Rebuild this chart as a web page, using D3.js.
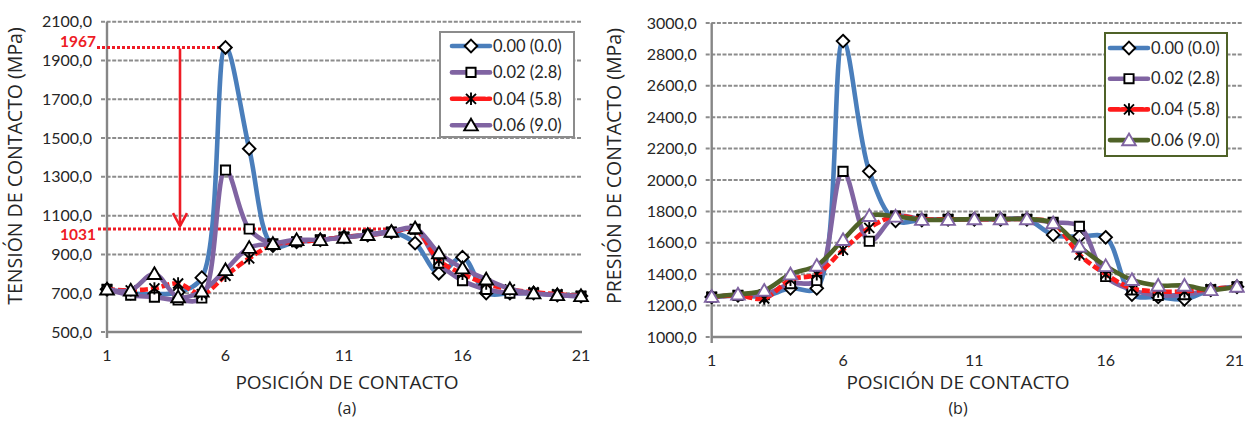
<!DOCTYPE html>
<html>
<head>
<meta charset="utf-8">
<script src="https://cdn.jsdelivr.net/npm/d3@7"></script>
<style>
  html, body { margin: 0; padding: 0; background: #fff; }
  svg { display: block; }
</style>
</head>
<body>
<svg id="chart" width="1245" height="421"></svg>
<script>
// Contact positions along the profile
const positions = [1,2,3,4,5,6,7,8,9,10,11,12,13,14,15,16,17,18,19,20,21];
const xTickLabels = [1, 6, 11, 16, 21];

// Series names (misalignment and angle)
const seriesNames = ["0.00 (0.0)", "0.02 (2.8)", "0.04 (5.8)", "0.06 (9.0)"];

// (a) Contact stress, MPa
const tension00 = [720,700,695,705,780,1967,1445,945,965,975,990,1000,1015,958,803,886,701,700,700,690,685];
const tension02 = [720,690,680,665,675,1335,1031,955,965,975,990,1000,1015,1030,855,765,720,700,700,690,685];
const tension04 = [720,715,725,750,695,790,880,950,965,975,990,1000,1015,1030,870,800,750,720,705,695,685];
const tension06 = [720,715,800,680,710,820,935,955,975,975,987,1001,1018,1036,907,829,772,722,700,691,686];
const tensionTicks = [500,700,900,1100,1300,1500,1700,1900,2100];
const tensionMarks = [1967, 1031];

// (b) Contact pressure, MPa
const pressure00 = [1255,1265,1260,1310,1310,2885,2055,1740,1745,1750,1750,1750,1750,1650,1640,1635,1270,1255,1240,1300,1320];
const pressure02 = [1255,1265,1270,1340,1360,2055,1610,1770,1750,1750,1750,1750,1750,1730,1705,1385,1300,1265,1270,1300,1320];
const pressure04 = [1255,1265,1245,1365,1400,1555,1695,1770,1750,1750,1750,1750,1750,1725,1525,1400,1310,1290,1290,1305,1320];
const pressure06 = [1257,1272,1296,1400,1455,1619,1772,1768,1747,1747,1751,1751,1751,1726,1577,1453,1364,1328,1328,1300,1321];
const pressureTicks = [1000,1200,1400,1600,1800,2000,2200,2400,2600,2800,3000];

const WIDTH = 1245;
const BLUE = "#4A7EBB", PURPLE = "#8064A2", RED = "#FF1A1A", OLIVE = "#4F6228";
const GRID = "#8C8C8C", AXIS = "#868686", TEXT = "#262626";
const tickFont = "Lato, 'Liberation Sans', sans-serif";
const titleFont = "'Open Sans', 'Noto Sans', sans-serif";
const TICK_SIZE = 16;

const svg = d3.select("#chart");

function markerPath(type) {
  switch (type) {
    case "diamond":  return "M0,-6.3L6.3,0L0,6.3L-6.3,0Z";
    case "square":   return "M-4.6,-4.6H4.6V4.6H-4.6Z";
    case "triangle": return "M0,-6.5L6.8,5.2L-6.8,5.2Z";
    case "star":     return "M-5,-5L5,5M-5,5L5,-5M0,-6.2V6.2";
  }
}

const fmt = v => v.toFixed(1).replace(".", ",");

function drawPanel(cfg) {
  const g = svg.append("g");
  const x = d3.scaleLinear().domain([1, 21]).range(cfg.xRange);
  const y = d3.scaleLinear().domain(cfg.yDomain).range(cfg.yRange);

  // dashed horizontal gridlines (with outward tick stubs)
  g.selectAll("line.grid").data(cfg.ticks).join("line")
    .attr("x1", cfg.xRange[0] - 6).attr("x2", cfg.gridEnd)
    .attr("y1", d => y(d)).attr("y2", d => y(d))
    .attr("stroke", GRID).attr("stroke-width", 2)
    .attr("stroke-dasharray", "4,1.6");

  // y tick labels
  g.selectAll("text.ytick").data(cfg.ticks).join("text")
    .attr("x", cfg.xRange[0] - 15).attr("y", d => y(d))
    .attr("dy", "0.35em").attr("text-anchor", "end")
    .attr("font-family", tickFont).attr("font-size", TICK_SIZE)
    .attr("fill", TEXT).text(fmt);

  // axes lines
  g.append("line")
    .attr("x1", cfg.xRange[0]).attr("x2", cfg.xRange[0])
    .attr("y1", cfg.yRange[1]).attr("y2", cfg.yRange[0] + 6)
    .attr("stroke", AXIS).attr("stroke-width", 2.4);
  g.append("line")
    .attr("x1", cfg.xRange[0]).attr("x2", cfg.gridEnd)
    .attr("y1", cfg.yRange[0]).attr("y2", cfg.yRange[0])
    .attr("stroke", AXIS).attr("stroke-width", 2.4);

  // x tick labels (kept inside the page at the right edge)
  g.selectAll("text.xtick").data(xTickLabels).join("text")
    .attr("y", cfg.yRange[0] + 29)
    .attr("text-anchor", "middle")
    .attr("font-family", tickFont).attr("font-size", TICK_SIZE)
    .attr("fill", TEXT).text(d => d)
    .attr("x", function (d) {
      const half = this.getComputedTextLength() / 2;
      return Math.min(x(d), WIDTH - 1 - half);
    });

  // axis titles
  g.append("text")
    .attr("x", cfg.titleX).attr("y", 389)
    .attr("text-anchor", "middle")
    .attr("font-family", titleFont).attr("font-size", 19)
    .attr("fill", TEXT).text("POSICIÓN DE CONTACTO");
  g.append("text")
    .attr("x", cfg.titleX).attr("y", 414)
    .attr("text-anchor", "middle")
    .attr("font-family", titleFont).attr("font-size", 16)
    .attr("fill", TEXT).text(cfg.panel);
  g.append("text")
    .attr("transform", `translate(${cfg.yTitleX},${cfg.yTitleY}) rotate(-90)`)
    .attr("text-anchor", "middle")
    .attr("font-family", titleFont).attr("font-size", 19.5)
    .attr("fill", TEXT).text(cfg.yTitle);

  // optional annotation layer beneath the series
  if (cfg.annotate) cfg.annotate(g, x, y);

  const line = d3.line()
    .x((d, i) => x(positions[i]))
    .y(d => y(d))
    .curve(d3.curveCatmullRom.alpha(0.5));

  cfg.series.forEach(s => {
    g.append("path")
      .attr("d", line(s.values))
      .attr("fill", "none")
      .attr("stroke", s.color).attr("stroke-width", 4.6)
      .attr("stroke-linejoin", "round")
      .attr("stroke-dasharray", s.dash || null);
    g.selectAll(null).data(s.values).join("path")
      .attr("transform", (d, i) => `translate(${x(positions[i])},${y(d)})`)
      .attr("d", markerPath(s.marker))
      .attr("fill", s.marker === "star" ? "none" : "#fff")
      .attr("stroke", s.markerStroke || "#000")
      .attr("stroke-width", 1.9);
  });

  // legend
  const L = cfg.legend;
  g.append("rect")
    .attr("x", L.x).attr("y", L.y).attr("width", L.w).attr("height", L.h)
    .attr("fill", "#fff").attr("stroke", L.border).attr("stroke-width", 2);
  cfg.series.forEach((s, i) => {
    const ry = L.y + L.first + i * L.step;
    g.append("line")
      .attr("x1", L.x + L.pad).attr("x2", L.x + L.pad + 38)
      .attr("y1", ry).attr("y2", ry)
      .attr("stroke", s.color).attr("stroke-width", 4.6)
      .attr("stroke-linecap", "round")
      .attr("stroke-dasharray", s.dash ? "9,3" : null);
    g.append("path")
      .attr("transform", `translate(${L.x + L.pad + 19},${ry})`)
      .attr("d", markerPath(s.marker))
      .attr("fill", s.marker === "star" ? "none" : "#fff")
      .attr("stroke", s.markerStroke || "#000")
      .attr("stroke-width", 1.9);
    g.append("text")
      .attr("x", L.x + L.pad + 41).attr("y", ry).attr("dy", "0.35em")
      .attr("font-family", tickFont).attr("font-size", 16.5)
      .attr("fill", TEXT).text(seriesNames[i]);
  });
}

// (a) contact stress
drawPanel({
  panel: "(a)",
  xRange: [107, 581], gridEnd: 582, titleX: 347,
  yDomain: [500, 2100], yRange: [332, 21.7],
  ticks: tensionTicks,
  yTitle: "TENSIÓN DE CONTACTO (MPa)", yTitleX: 22, yTitleY: 166,
  series: [
    { values: tension00, color: BLUE,   marker: "diamond" },
    { values: tension02, color: PURPLE, marker: "square" },
    { values: tension04, color: RED,    marker: "star", dash: "8,3" },
    { values: tension06, color: PURPLE, marker: "triangle" }
  ],
  legend: { x: 440, y: 32, w: 134, h: 105, pad: 12, first: 14, step: 26.4, border: "#8C8C8C" },
  annotate: (g, x, y) => {
    const [peak, settled] = tensionMarks;
    const red = "#EE1C25";
    // dotted reference lines
    g.append("line")
      .attr("x1", 97).attr("x2", x(6)).attr("y1", y(peak)).attr("y2", y(peak))
      .attr("stroke", red).attr("stroke-width", 3).attr("stroke-dasharray", "3,2");
    g.append("line")
      .attr("x1", 98).attr("x2", x(13.1)).attr("y1", y(settled)).attr("y2", y(settled))
      .attr("stroke", red).attr("stroke-width", 3).attr("stroke-dasharray", "3,2");
    // arrow from peak value down to the settled value
    const ax = x(4.08);
    g.append("line")
      .attr("x1", ax).attr("x2", ax)
      .attr("y1", y(peak) + 1).attr("y2", y(settled) - 3)
      .attr("stroke", red).attr("stroke-width", 2.6);
    g.append("path")
      .attr("d", `M${ax - 7},${y(settled) - 16}L${ax},${y(settled) - 3}L${ax + 7},${y(settled) - 16}`)
      .attr("fill", "none").attr("stroke", red).attr("stroke-width", 2.6);
    // value labels: the peak sits just above its line, the settled value just below
    [[peak, -6], [settled, 6]].forEach(([v, off]) => {
      g.append("text")
        .attr("x", 96).attr("y", y(v) + off).attr("dy", "0.35em")
        .attr("text-anchor", "end")
        .attr("font-family", tickFont).attr("font-weight", "bold")
        .attr("font-size", 15.5).attr("fill", red).text(v);
    });
  }
});

// (b) contact pressure
drawPanel({
  panel: "(b)",
  xRange: [711.7, 1237], gridEnd: 1242, titleX: 958,
  yDomain: [1000, 3000], yRange: [337, 23],
  ticks: pressureTicks,
  yTitle: "PRESIÓN DE CONTACTO (MPa)", yTitleX: 621, yTitleY: 166,
  series: [
    { values: pressure00, color: BLUE,   marker: "diamond" },
    { values: pressure02, color: PURPLE, marker: "square" },
    { values: pressure04, color: RED,    marker: "star", dash: "8,3" },
    { values: pressure06, color: OLIVE,  marker: "triangle", markerStroke: PURPLE }
  ],
  legend: { x: 1105, y: 33, w: 122, h: 123, pad: 5, first: 15, step: 30.7, border: OLIVE }
});
</script>
</body>
</html>
